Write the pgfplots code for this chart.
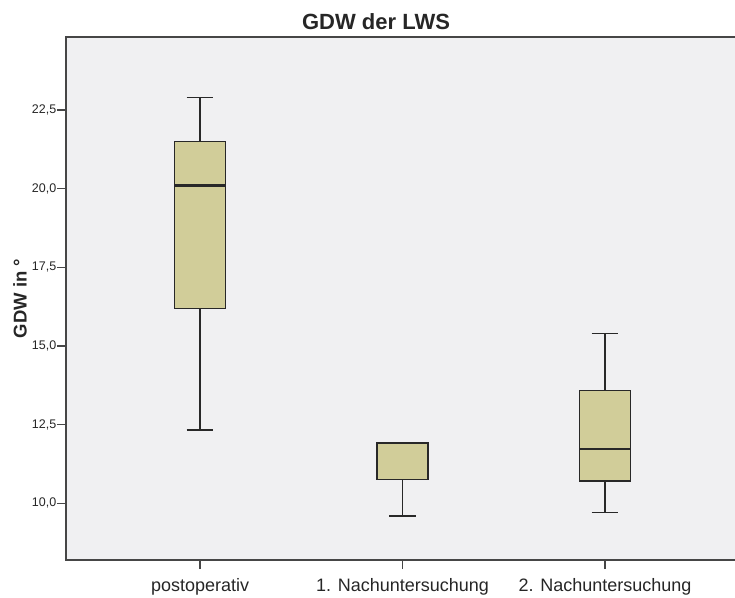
\documentclass[border=0pt]{standalone}
\usepackage{pgfplots}
\pgfplotsset{compat=1.18}
\usepackage{fontspec}
\setmainfont{Liberation Sans}

\definecolor{plotbg}{RGB}{240,240,242}
\definecolor{boxfill}{RGB}{209,205,153}
\definecolor{edge}{RGB}{40,40,40}
\definecolor{spine}{RGB}{70,70,70}

\begin{document}
\begin{tikzpicture}
\begin{axis}[
  scale only axis,
  width=673pt, height=523pt,
  xmin=0.338, xmax=3.662,
  ymin=8.2, ymax=24.82,
  axis background/.style={fill=plotbg},
  axis line style={spine, line width=1.6pt},
  xtick={1,2,3},
  xticklabels={postoperativ, 1. Nachuntersuchung, 2. Nachuntersuchung},
  ytick={10,12.5,15,17.5,20,22.5},
  xtick pos=bottom, ytick pos=left,
  tick align=outside,
  major tick length=9pt,
  tick style={spine, line width=1.4pt},
  xticklabel style={font=\fontsize{18}{20}\selectfont, text=black!85, yshift=-6pt},
  yticklabel style={font=\fontsize{12.5}{14}\selectfont, text=black!85,
    inner sep=0.5pt,
    /pgf/number format/fixed, /pgf/number format/fixed zerofill,
    /pgf/number format/precision=1, /pgf/number format/use comma,
    /pgf/number format/assume math mode=true},
  unbounded coords=jump,
  whisker/.style={draw=edge, line width=1.8pt, mark=none},
  box/.style={draw=edge, fill=boxfill, line width=1.4pt, mark=none, line join=miter},
  median/.style={draw=edge, line width=2.4pt, mark=none},
]
% whiskers and caps (box half width 0.126, cap half width 0.066)
\addplot[whisker] coordinates {
  (1,21.49) (1,22.90) (nan,nan) (0.934,22.90) (1.066,22.90) (nan,nan)
  (1,16.20) (1,12.32) (nan,nan) (0.934,12.32) (1.066,12.32) (nan,nan)
  (2,11.92) (2,11.92) (nan,nan) (1.934,11.92) (2.066,11.92) (nan,nan)
  (2,10.76) (2,9.61)  (nan,nan) (1.934,9.61)  (2.066,9.61)  (nan,nan)
  (3,13.58) (3,15.40) (nan,nan) (2.934,15.40) (3.066,15.40) (nan,nan)
  (3,10.71) (3,9.71)  (nan,nan) (2.934,9.71)  (3.066,9.71)
};
% boxes: lower to upper quartile
\addplot[box] coordinates {(0.874,16.20) (1.126,16.20) (1.126,21.49) (0.874,21.49)} -- cycle;
\addplot[box] coordinates {(1.874,10.76) (2.126,10.76) (2.126,11.92) (1.874,11.92)} -- cycle;
\addplot[box] coordinates {(2.874,10.71) (3.126,10.71) (3.126,13.58) (2.874,13.58)} -- cycle;
% medians
\addplot[median] coordinates {
  (0.874,20.10) (1.126,20.10) (nan,nan)
  (1.874,11.92) (2.126,11.92) (nan,nan)
  (2.874,11.73) (3.126,11.73)
};
\end{axis}
% title and axis label
\node[font=\bfseries\fontsize{22}{25}\selectfont, text=black!85]
  at ([shift={(310pt,538pt)}]current axis.south west) {GDW der LWS};
\node[font=\bfseries\fontsize{18.5}{22}\selectfont, text=black!85, rotate=90]
  at ([shift={(-46pt,261.5pt)}]current axis.south west) {GDW in °};
\pgfresetboundingbox
\path[use as bounding box]
  ([shift={(-66pt,-37pt)}]current axis.south west) rectangle
  ([shift={(669pt,560pt)}]current axis.south west);
\end{tikzpicture}
\end{document}
